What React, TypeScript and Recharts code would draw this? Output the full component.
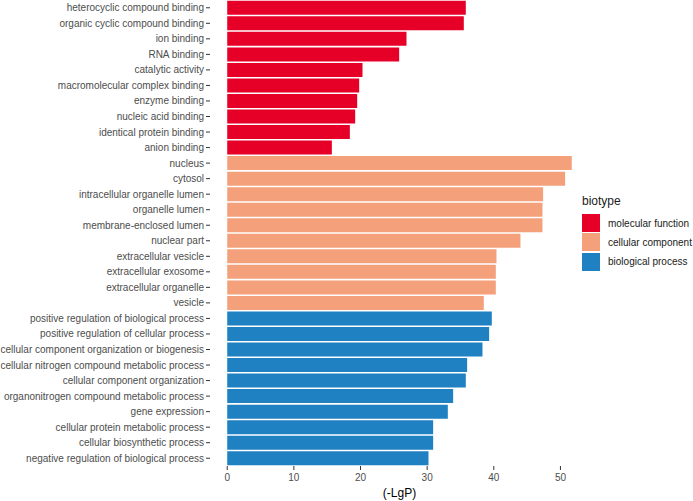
import { BarChart, Bar, XAxis, YAxis, Cell, Legend, Label } from 'recharts'

const TERMS = [
  'heterocyclic compound binding',
  'organic cyclic compound binding',
  'ion binding',
  'RNA binding',
  'catalytic activity',
  'macromolecular complex binding',
  'enzyme binding',
  'nucleic acid binding',
  'identical protein binding',
  'anion binding',
  'nucleus',
  'cytosol',
  'intracellular organelle lumen',
  'organelle lumen',
  'membrane-enclosed lumen',
  'nuclear part',
  'extracellular vesicle',
  'extracellular exosome',
  'extracellular organelle',
  'vesicle',
  'positive regulation of biological process',
  'positive regulation of cellular process',
  'cellular component organization or biogenesis',
  'cellular nitrogen compound metabolic process',
  'cellular component organization',
  'organonitrogen compound metabolic process',
  'gene expression',
  'cellular protein metabolic process',
  'cellular biosynthetic process',
  'negative regulation of biological process',
]

const LGP = [
  35.8, 35.5, 26.9, 25.8, 20.3, 19.8, 19.5, 19.2, 18.4, 15.7,
  51.7, 50.7, 47.4, 47.3, 47.3, 44.0, 40.4, 40.3, 40.3, 38.5,
  39.7, 39.3, 38.3, 36.0, 35.8, 33.9, 33.1, 30.9, 30.9, 30.2,
]

const BIOTYPES = ['molecular function', 'cellular component', 'biological process']
const GROUP_SIZES = [10, 10, 10]
const X_TICKS = [0, 10, 20, 30, 40, 50]

const COLORS: Record<string, string> = {
  'molecular function': '#e60028',
  'cellular component': '#f3a07b',
  'biological process': '#1f80c2',
}

const groupOf = (i: number) => {
  let acc = 0
  for (let g = 0; g < GROUP_SIZES.length; g++) {
    acc += GROUP_SIZES[g]
    if (i < acc) return BIOTYPES[g]
  }
  return BIOTYPES[BIOTYPES.length - 1]
}

const data = TERMS.map((term, i) => ({ term, value: LGP[i], biotype: groupOf(i) }))

const xMax = Math.max(...LGP)

// single-line y tick, recharts' own Text would wrap the long terms
function TermTick(props: any) {
  const { x, y, payload } = props
  return (
    <text x={x} y={y} textAnchor="end" dominantBaseline="central" fontSize={10} fill="#4d4d4d">
      {payload.value}
    </text>
  )
}

function BiotypeLegend() {
  return (
    <div style={{ fontFamily: '"Liberation Sans", Arial, sans-serif', color: '#1a1a1a' }}>
      <div style={{ fontSize: 12, lineHeight: '16px', height: 16, marginBottom: 5 }}>biotype</div>
      {BIOTYPES.map((b) => (
        <div key={b} style={{ display: 'flex', alignItems: 'center', height: 18, marginBottom: 1.3 }}>
          <span style={{ width: 18, height: 18, background: COLORS[b], display: 'inline-block' }} />
          <span style={{ fontSize: 10, marginLeft: 8, color: '#1a1a1a' }}>{b}</span>
        </div>
      ))}
    </div>
  )
}

export default function App() {
  return (
    <div
      style={{
        position: 'absolute',
        left: 0,
        top: 0,
        width: 693,
        height: 501,
        background: '#fff',
        fontFamily: '"Liberation Sans", Arial, sans-serif',
      }}
    >
      <BarChart
        width={693}
        height={501}
        data={data}
        layout="vertical"
        barCategoryGap="5%"
        margin={{ top: 0, right: 104, bottom: 0, left: 0 }}
      >
        <XAxis
          type="number"
          domain={[-xMax * 0.05, xMax * 1.05]}
          ticks={X_TICKS}
          allowDataOverflow
          axisLine={false}
          tickSize={4}
          tickMargin={3.5}
          tickLine={{ stroke: '#333' }}
          tick={{ fontSize: 10, fill: '#4d4d4d' }}
          height={35}
        >
          <Label value="(-LgP)" position="insideBottom" offset={4} style={{ fontSize: 12, fill: '#000' }} />
        </XAxis>
        <YAxis
          type="category"
          dataKey="term"
          width={210}
          interval={0}
          axisLine={false}
          tickSize={4}
          tickMargin={2}
          tickLine={{ stroke: '#333' }}
          tick={<TermTick />}
        />
        <Legend
          layout="vertical"
          align="center"
          verticalAlign="middle"
          content={() => <BiotypeLegend />}
          wrapperStyle={{ position: 'absolute', left: 582, top: 193, width: 111 }}
        />
        <Bar dataKey="value" isAnimationActive={false}>
          {data.map((d, i) => (
            <Cell key={`bar-${i}`} fill={COLORS[d.biotype]} />
          ))}
        </Bar>
      </BarChart>
    </div>
  )
}
